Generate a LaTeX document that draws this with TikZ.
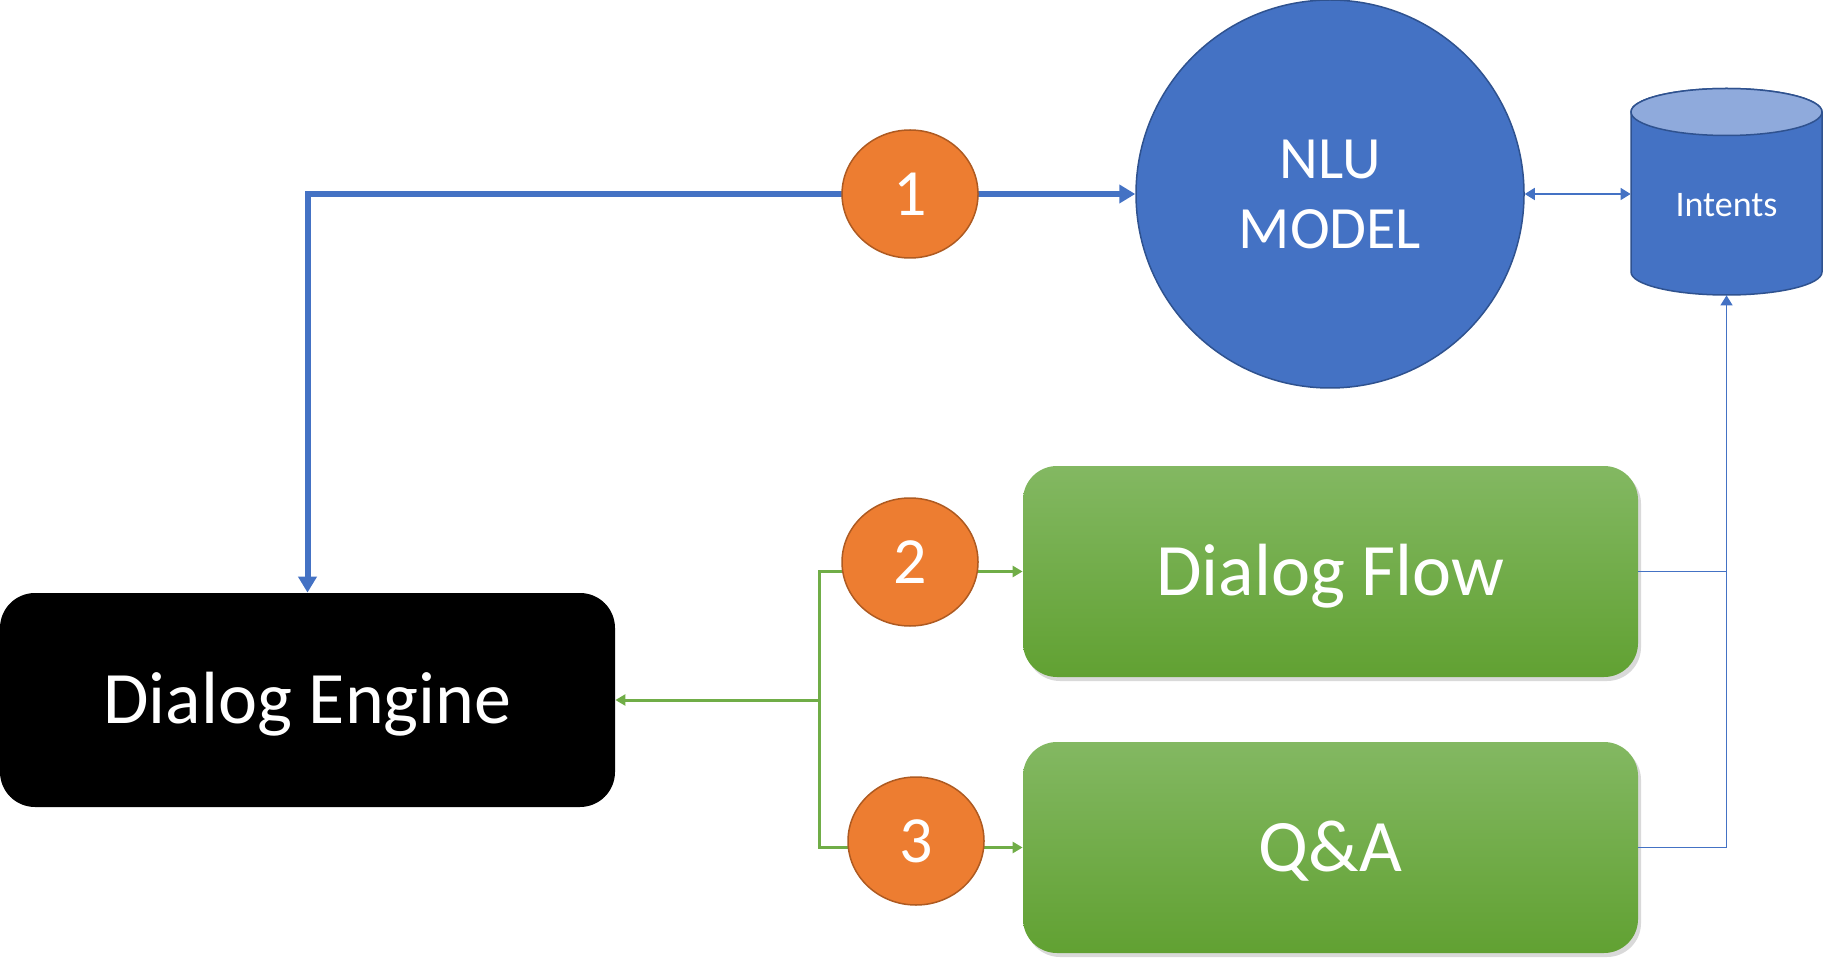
\documentclass[tikz,border=0pt]{standalone}
\usepackage{fontspec}
\setmainfont{Carlito}
\usetikzlibrary{arrows.meta,shapes.geometric,shadows,backgrounds}
\definecolor{mblue}{HTML}{4472C4}
\definecolor{bborder}{HTML}{2F528F}
\definecolor{cyltop}{HTML}{8FAADC}
\definecolor{morange}{HTML}{ED7D31}
\definecolor{oborder}{HTML}{AE5A21}
\definecolor{gline}{HTML}{70AD47}
\definecolor{gtop}{HTML}{83B862}
\definecolor{gbot}{HTML}{61A132}
\begin{document}
\begin{tikzpicture}[x=0.5pt,y=-0.5pt,
  num/.style={ellipse, draw=oborder, line width=0.75pt, fill=morange, minimum width=68pt, minimum height=64pt, inner sep=0pt, text=white, font=\fontsize{33}{33}\selectfont},
  greenbox/.style={rectangle, rounded corners=17pt, top color=gtop, bottom color=gbot, draw=none, minimum width=307.5pt, minimum height=105.5pt, text=white, font=\fontsize{37}{37}\selectfont, text height=23.8pt, text depth=0pt, drop shadow={opacity=0.3, shadow xshift=1.5pt, shadow yshift=-2pt}},
  thickarrow/.style={draw=mblue, line width=3pt, -{Triangle[width=9pt,length=8pt]}},
  thinarrow/.style={draw=mblue, line width=0.75pt},
  garrow/.style={draw=gline, line width=1.5pt}
]
\useasboundingbox (0,0) rectangle (1823,967);

% Dialog Engine
\node[rectangle, rounded corners=17.5pt, fill=black, minimum width=307.5pt, minimum height=107pt, text=white, font=\fontsize{37}{37}\selectfont, text height=23.8pt, text depth=0pt, inner sep=0pt] (de) at (307.5,700) {Dialog Engine};

% NLU model
\node[circle, fill=mblue, draw=bborder, line width=0.75pt, minimum size=194pt, inner sep=0pt, text=white, align=center, font=\fontsize{30}{35}\selectfont] (nlu) at (1330,194) {NLU\\MODEL};

% Intents cylinder
\filldraw[fill=mblue, draw=bborder, line width=0.75pt] (1631,112) -- (1631,272) arc[start angle=180, end angle=0, x radius=95.5, y radius=23] -- (1822,112) arc[start angle=0, end angle=-180, x radius=95.5, y radius=23.5] -- cycle;
\filldraw[fill=cyltop, draw=bborder, line width=0.75pt] (1726.5,112) ellipse[x radius=95.5, y radius=23.5];
\node[minimum width=95.5pt, minimum height=101pt, inner sep=0pt] (intents) at (1726.5,194) {};
\node[text=white, font=\fontsize{18}{18}\selectfont, inner sep=0pt] (intentslabel) at (1726.5,205) {Intents};

% Green boxes
\node[greenbox] (df) at (1330.5,571.5) {Dialog Flow};
\node[greenbox] (qa) at (1330.5,847.5) {Q\&A};

% Junction
\coordinate (j) at (819,700);

% Connectors (behind the numbered circles)
\begin{pgfonlayer}{background}
\draw[thickarrow] (nlu.west -| 910,0) -- (nlu.west);
\draw[thickarrow] (nlu.west -| 910,0) -| (de.north);
\draw[garrow, {Triangle[width=5.5pt,length=5pt]}-{Triangle[width=5.5pt,length=5pt]}] (df.west) -- (j |- df.west) -- (j |- qa.west) -- (qa.west);
\draw[garrow, -{Triangle[width=5.5pt,length=5pt]}] (j) -- (de.east);
\end{pgfonlayer}

\draw[thinarrow, {Triangle[width=6pt,length=5pt]}-{Triangle[width=6pt,length=5pt]}] (nlu.east) -- (intents.west);
\draw[thinarrow, -{Triangle[width=6pt,length=5pt]}] (df.east) -| (intents.south);
\draw[thinarrow] (qa.east) -| (intents.south);

% Numbered circles
\node[num] (c1) at (910,194) {1};
\node[num] (c2) at (910,562) {2};
\node[num] (c3) at (916,841) {3};
\end{tikzpicture}
\end{document}
